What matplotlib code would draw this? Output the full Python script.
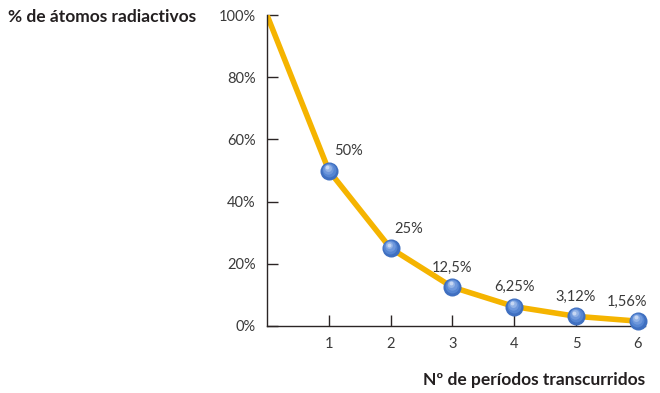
import matplotlib
matplotlib.use('Agg')
import matplotlib.pyplot as plt

plt.rcParams['font.family'] = ['Lato', 'DejaVu Sans']

periodos = [0, 1, 2, 3, 4, 5, 6]
porcentaje = [100, 50, 25, 12.5, 6.25, 3.12, 1.56]
etiquetas = ['', '50%', '25%', '12,5%', '6,25%', '3,12%', '1,56%']
yticks = [0, 20, 40, 60, 80, 100]

fig = plt.figure(figsize=(6.6, 3.93), dpi=100)
ax = fig.add_axes([0.4045, 0.1705, 0.573, 0.7913])

ax.plot(periodos, porcentaje, color='#F5B400', lw=4, solid_capstyle='round', zorder=2)
# esferas azules: base, capas más claras hacia arriba a la izquierda
ax.plot(periodos[1:], porcentaje[1:], 'o', ms=13, color='#3F6FC0',
        mew=0, zorder=3, clip_on=False)
capas = [(10, '#5585D2', 0.004, 0.3), (7.5, '#6F98DC', 0.012, 0.6),
         (5, '#93B3E6', 0.02, 0.9), (2.8, '#C6D7F3', 0.028, 1.2)]
for ms, c, ox, oy in capas:
    ax.plot([x - ox for x in periodos[1:]], [y + oy for y in porcentaje[1:]], 'o',
            ms=ms, color=c, mew=0, zorder=4, clip_on=False)

# desplazamiento horizontal de cada etiqueta (puntos)
dx = [0, 14, 13, 0, 0, 0, -8]
for x, y, t, d in zip(periodos, porcentaje, etiquetas, dx):
    if t:
        ax.annotate(t, (x, y), xytext=(d, 9), textcoords='offset points',
                    ha='center', va='bottom', fontsize=10.5, color='#3a3a3a')

ax.set_xlim(0, 6.12)
ax.set_ylim(0, 100)
ax.set_xticks([1, 2, 3, 4, 5, 6])
ax.set_yticks(yticks)
ax.set_yticklabels([f'{v}%' for v in yticks])
ax.tick_params(axis='both', direction='in', length=8, width=1, color='#2b2525',
               labelsize=10.5, labelcolor='#3a3a3a')
ax.tick_params(axis='x', pad=8)
ax.tick_params(axis='y', pad=8)
for s in ['top', 'right']:
    ax.spines[s].set_visible(False)
for s in ['left', 'bottom']:
    ax.spines[s].set_color('#2b2525')
    ax.spines[s].set_linewidth(1)

fig.text(0.012, 0.958, '% de átomos radiactivos', fontsize=12.5, fontweight='bold',
         color='#231f20', ha='left', va='center')
fig.text(0.977, 0.033, 'Nº de períodos transcurridos', fontsize=12.5, fontweight='bold',
         color='#231f20', ha='right', va='center')

fig.savefig('out.png', dpi=100)
